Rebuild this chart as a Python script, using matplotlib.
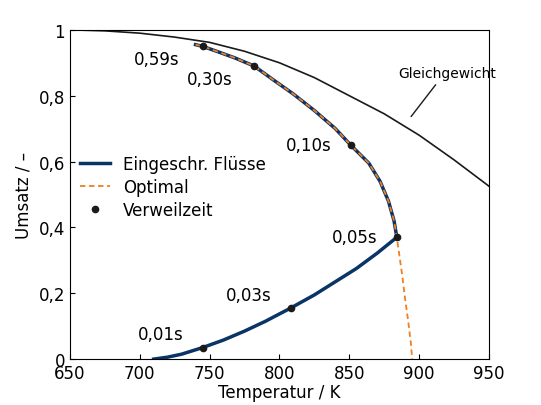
import matplotlib.pyplot as plt

eq_T = [650, 675, 700, 725, 750, 775, 800, 825, 850, 875, 900, 925, 950]
eq_X = [1.0, 0.997, 0.99, 0.978, 0.962, 0.935, 0.90, 0.855, 0.80, 0.745, 0.68, 0.605, 0.525]

low_T = [710, 720, 730, 745, 760, 775, 790, 808, 825, 840, 855, 870, 884]
low_X = [0.0, 0.006, 0.015, 0.035, 0.058, 0.085, 0.115, 0.155, 0.195, 0.235, 0.275, 0.322, 0.37]

up_T = [884, 882, 878, 872, 864, 851, 840, 825, 810, 795, 782, 768, 755, 745, 740]
up_X = [0.37, 0.42, 0.48, 0.54, 0.595, 0.65, 0.70, 0.755, 0.805, 0.85, 0.89, 0.915, 0.935, 0.95, 0.955]

opt_T = up_T[::-1] + [886, 888, 890, 892, 894, 895]
opt_X = up_X[::-1] + [0.31, 0.25, 0.18, 0.12, 0.05, 0.0]

pts_T = [745, 808, 884, 851, 782, 745]
pts_X = [0.035, 0.155, 0.37, 0.65, 0.89, 0.95]
pts_lbl = ["0,01s", "0,03s", "0,05s", "0,10s", "0,30s", "0,59s"]
lbl_off = [(-30, 0.04), (-30, 0.04), (-30, 0.0), (-30, 0.0), (-32, -0.04), (-33, -0.04)]

fig = plt.figure(figsize=(5.41, 4.06), dpi=100)
ax = fig.add_axes([0.129, 0.113, 0.775, 0.811])
ax.plot(eq_T, eq_X, color='#1a1a1a', lw=1.2)
ax.plot(low_T + up_T, low_X + up_X, color='#0a3366', lw=2.5, label='Eingeschr. Flüsse')
ax.plot(opt_T, opt_X, color='#f07f1e', lw=1.3, ls=(0, (3, 2)), label='Optimal')
ax.plot(pts_T, pts_X, 'o', color='#1a1a1a', ms=4.5, label='Verweilzeit')
for t, x, l, (dx, dy) in zip(pts_T, pts_X, pts_lbl, lbl_off):
    ax.text(t + dx, x + dy, l, fontsize=12, ha='center', va='center')
ax.text(920, 0.87, 'Gleichgewicht', fontsize=10, ha='center', va='center')
ax.annotate('', xy=(893, 0.73), xytext=(913, 0.84),
            arrowprops=dict(arrowstyle='-', color='#1a1a1a', lw=1))
ax.set_xlim(650, 950)
ax.set_ylim(0, 1)
ax.set_xticks([650, 700, 750, 800, 850, 900, 950])
ax.set_yticks([0, 0.2, 0.4, 0.6, 0.8, 1.0])
ax.set_yticklabels(['0', '0,2', '0,4', '0,6', '0,8', '1'])
ax.tick_params(labelsize=12, direction='in')
ax.set_xlabel('Temperatur / K', fontsize=12, labelpad=1)
ax.set_ylabel('Umsatz / –', fontsize=12)
ax.legend(loc='upper left', bbox_to_anchor=(0.0, 0.65), frameon=False, fontsize=12,
          handlelength=1.8, labelspacing=0.3, borderaxespad=0.2)
fig.savefig('out.png', dpi=100)
